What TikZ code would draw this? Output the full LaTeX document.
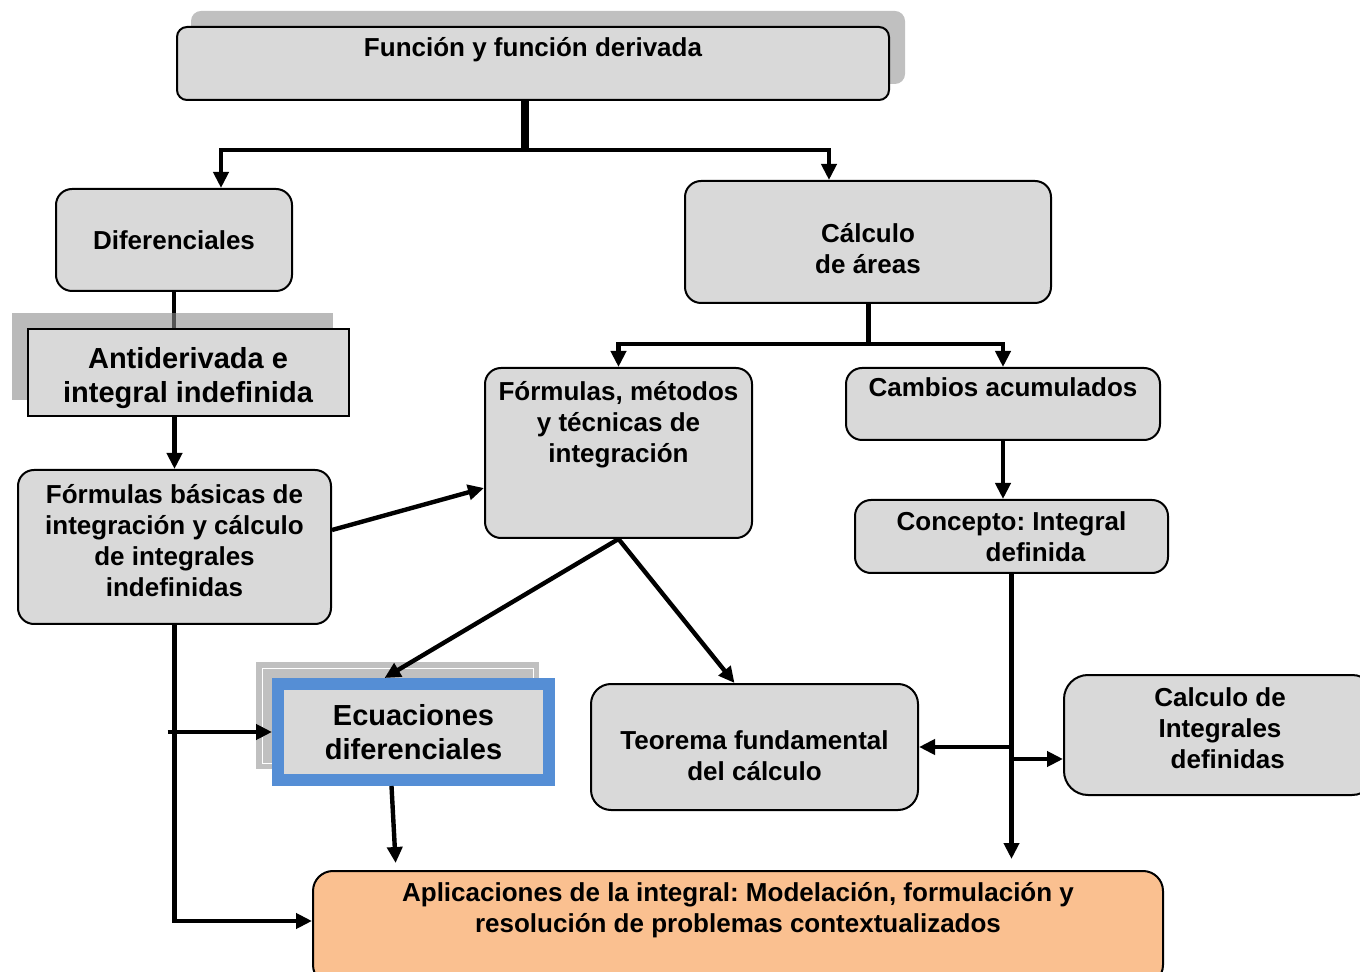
\documentclass[tikz,border=0pt]{standalone}
\usepackage{fontspec}
\setmainfont{Liberation Sans}
\frenchspacing
\usetikzlibrary{arrows.meta}
\pgfdeclarelayer{background}
\pgfsetlayers{background,main}
\newcommand{\unitpx}{0.5pt}
\definecolor{boxgray}{HTML}{D9D9D9}
\definecolor{shadowgray}{HTML}{C0C0C0}
\definecolor{aplorange}{HTML}{FAC090}
\definecolor{ecublue}{HTML}{558ED5}
\begin{document}
\begin{tikzpicture}[x=0.5pt, y=-0.5pt]
      \tikzset{box/.style={draw, line width=1pt, fill=boxgray, rounded corners=8pt, align=center, inner sep=0pt, font=\fontsize{13}{15.5}\selectfont\bfseries},
               toptext/.style={anchor=north, inner sep=0pt, align=center, font=\fontsize{13}{15.5}\selectfont\bfseries},
               midtext/.style={anchor=center, inner sep=0pt, align=center, font=\fontsize{13}{15.5}\selectfont\bfseries},
               conn/.style={line width=2.2pt, -{Triangle[length=8pt, width=7.5pt]}}}
      \useasboundingbox (0,0) rectangle (1360,972);
%% Shadows
      \fill[shadowgray, rounded corners=5pt] (191,11) rectangle (905,84);
      \fill[black!45, fill opacity=.6] (12,313) rectangle (333,400);
      \fill[shadowgray] (256,662) rectangle (539,769);
      \draw[white, line width=.5pt] (262,668) rectangle (533,763);
%% Boxes
      \node[box, rounded corners=5pt, minimum width=712*\unitpx, minimum height=73*\unitpx, label={[toptext, yshift=-5.5pt]north:{Función y función derivada}}] (funcion) at (533,63.5) {};
      \node[box, minimum width=236*\unitpx, minimum height=102*\unitpx] (difer) at (174,240) {Diferenciales};
      \node[box, minimum width=366*\unitpx, minimum height=122*\unitpx, label={[midtext, yshift=-3.5pt]center:{Cálculo\\de áreas}}] (calc) at (868,242) {};
      \node[box, sharp corners, minimum width=321*\unitpx, minimum height=87*\unitpx, label={[midtext, yshift=-2.5pt, font=\fontsize{14.5}{17}\selectfont\bfseries]center:{Antiderivada e\\integral indefinida}}] (anti) at (188,373) {};
      \node[box, minimum width=313*\unitpx, minimum height=154*\unitpx, label={[midtext, yshift=3pt]center:{Fórmulas básicas de\\integración y cálculo\\de integrales\\indefinidas}}] (fbas) at (174.5,547) {};
      \node[box, minimum width=267*\unitpx, minimum height=170*\unitpx, label={[toptext, yshift=-7pt]north:{Fórmulas, métodos\\y técnicas de\\integración}}] (fmet) at (618.5,453) {};
      \node[box, minimum width=314*\unitpx, minimum height=72*\unitpx, label={[toptext, yshift=-5pt]north:{Cambios acumulados}}] (camb) at (1003,404) {};
      \node[box, minimum width=313*\unitpx, minimum height=73*\unitpx] (conc) at (1011.5,536.5) {Concepto: Integral\\\hspace*{1.85em}definida};
      \node[box, sharp corners, draw=ecublue, line width=6pt, minimum width=271*\unitpx, minimum height=96*\unitpx, font=\fontsize{14.5}{17}\selectfont\bfseries] (ecua) at (413.5,732) {Ecuaciones\\diferenciales};
      \node[box, rounded corners=10pt, minimum width=327*\unitpx, minimum height=126*\unitpx, label={[midtext, yshift=-4.5pt]center:{Teorema fundamental\\del cálculo}}] (teo) at (754.5,747) {};
      \node[box, rounded corners=12pt, minimum width=312*\unitpx, minimum height=120*\unitpx, label={[midtext, yshift=3.5pt]center:{Calculo de\\Integrales\\\hspace*{.6em}definidas}}] (cint) at (1220,735) {};
      \node[box, rounded corners=10pt, fill=aplorange, minimum width=850*\unitpx, minimum height=114*\unitpx, label={[toptext, yshift=-6pt]north:{Aplicaciones de la integral: Modelación, formulación y\\resolución de problemas contextualizados}}] (aplic) at (738,928) {};
%% Connectors
      \coordinate (split1) at (525,150);
      \coordinate (split2) at (868,344);
      \draw[line width=4pt] (split1 |- funcion.south) -- (split1);
      \draw[conn] (split1) -| ([xshift=47*\unitpx]difer.north);
      \draw[conn] (split1) -| ([xshift=-39*\unitpx]calc.north);
      \draw[line width=2.5pt] (calc) -- (split2);
      \draw[conn] (split2) -| (fmet);
      \draw[conn] (split2) -| (camb);
      \begin{pgfonlayer}{background}
        \draw[line width=2.2pt] (difer) -- (difer |- anti.north);
      \end{pgfonlayer}
      \draw[conn] (fbas.north |- anti.south) -- (fbas);
      \draw[conn] ([yshift=17*\unitpx]fbas.east) -- ([yshift=-35*\unitpx]fmet.west);
      \draw[conn] (fmet.south) -- ([xshift=-29*\unitpx]ecua.north);
      \draw[conn] (fmet.south) -- ([xshift=-20*\unitpx]teo.north);
      \draw[conn] (camb.south) -- (camb.south |- conc.north);
      \draw[conn, shorten >=5.5pt] (conc) -- (conc |- aplic.north);
      \draw[conn] (conc |- teo.east) -- (teo.east);
      \coordinate (cintin) at ([yshift=-24*\unitpx]cint.west);
      \draw[conn] (conc |- cintin) -- (cintin);
      \draw[conn] (fbas) |- ([yshift=7*\unitpx]aplic.west);
      \draw[conn] ([xshift=-7*\unitpx]fbas.south |- ecua.west) -- (ecua.west);
      \draw[conn, shorten >=3.5pt] ([xshift=-22*\unitpx]ecua.south) -- ([xshift=-342*\unitpx]aplic.north);
\end{tikzpicture}
\end{document}
